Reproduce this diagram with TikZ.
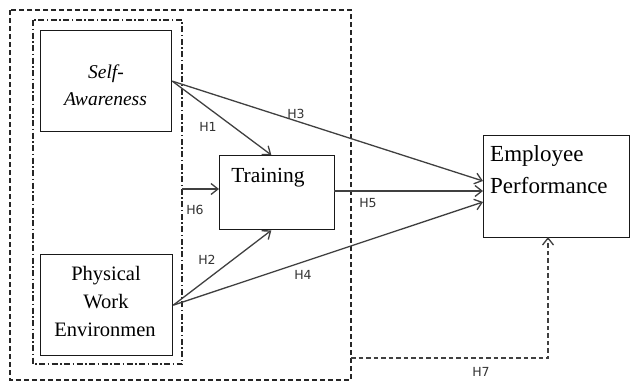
\documentclass[tikz,border=0pt]{standalone}
\usepackage{fontspec}
\setmainfont{Liberation Serif}
\newfontfamily\lblfont{DejaVu Sans}
\usetikzlibrary{arrows.meta,calc}
\begin{document}
\begin{tikzpicture}[x=1pt,y=-1pt,
  box/.style={draw=black!90,line width=1.3pt,rectangle,inner sep=0pt,anchor=north west},
  conn/.style={draw=black!75,line width=1.3pt,-{Straight Barb[length=7pt,width=11pt,line width=1.3pt]}},
  hlab/.style={font=\lblfont\fontsize{12.5}{14}\selectfont,text=black!80,inner sep=0pt},
  btxt/.style={font=\fontsize{20.5}{24}\selectfont,inner sep=0pt,anchor=base}]
\useasboundingbox (0,0) rectangle (630,383);
% groups
\draw[black!85,line width=1.2pt,dash pattern=on 5pt off 3pt] (10,10) rectangle (351,380);
\draw[black!85,line width=1.2pt,dash pattern=on 6pt off 2.5pt on 1.5pt off 2.5pt] (33,20) rectangle (182,364);
% boxes
\node[box,minimum width=131pt,minimum height=101pt] (sa) at (40,30) {};
\node[box,minimum width=132pt,minimum height=101pt] (pwe) at (40,254) {};
\node[box,minimum width=115pt,minimum height=74pt] (tr) at (219,155) {};
\node[box,minimum width=146pt,minimum height=102pt] (ep) at (483,135) {};
% texts
\node[btxt,font=\itshape\fontsize{19.5}{24}\selectfont] (sat1) at (106,78) {Self-};
\node[btxt,font=\itshape\fontsize{19.5}{24}\selectfont] (sat2) at (105.5,105) {Awareness};
\node[btxt] (pwt1) at (106,280) {Physical};
\node[btxt] (pwt2) at (106,308) {Work};
\node[btxt] (pwt3) at (105,336) {Environmen};
\node[btxt,font=\fontsize{21.5}{24}\selectfont] (trt) at (268,182) {Training};
\node[btxt,font=\fontsize{23}{24}\selectfont,anchor=base west] (ept1) at (490,161) {Employee};
\node[btxt,font=\fontsize{23}{24}\selectfont,anchor=base west] (ept2) at (490,193) {Performance};
% anchor points
\coordinate (trtop) at ($(tr.north west)!0.45!(tr.north east)$);
\coordinate (trbot) at ($(tr.south west)!0.45!(tr.south east)$);
\coordinate (h6s) at (182,189);
\coordinate (ep1) at (483,181);
\coordinate (ep2) at (483,191);
\coordinate (ep3) at (483,202);
\coordinate (trr) at (334,191);
\coordinate (h7a) at (351,358);
\coordinate (h7b) at (548,358);
\coordinate (epb) at (548,237);
% connectors
\draw[conn] (sa.east) -- (trtop);
\draw[conn] (sa.east) -- (ep1);
\draw[conn] (h6s) -- (h6s -| tr.west);
\draw[conn] (pwe.east) -- (trbot);
\draw[conn] (pwe.east) -- (ep3);
\draw[conn] (trr) -- (ep2);
\draw[conn,dash pattern=on 4.5pt off 3pt] (h7a) -- (h7b) -- (epb);
% labels
\node[hlab] (h1) at (208,127) {H1};
\node[hlab] (h3) at (296,114) {H3};
\node[hlab] (h6) at (195,210) {H6};
\node[hlab] (h2) at (207,260) {H2};
\node[hlab] (h4) at (303,275) {H4};
\node[hlab] (h5) at (368,203) {H5};
\node[hlab] (h7) at (481,372) {H7};
\end{tikzpicture}
\end{document}
